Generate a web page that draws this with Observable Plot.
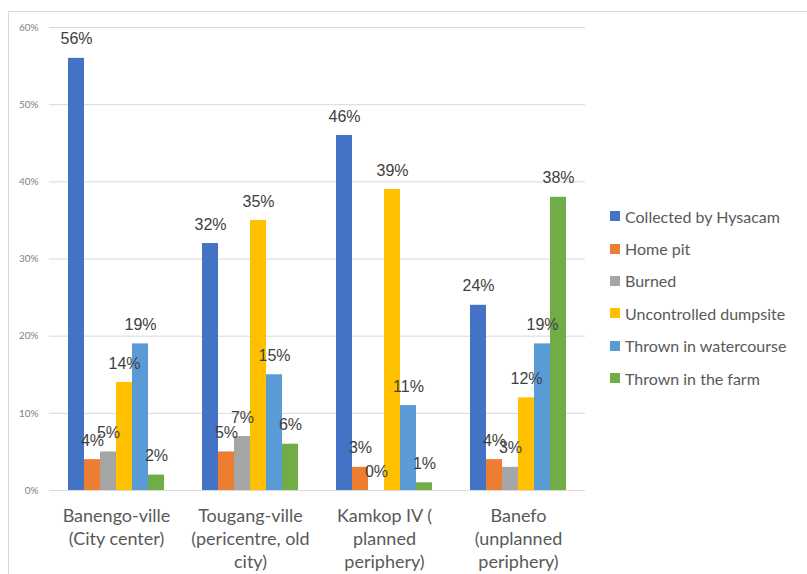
<!DOCTYPE html>
<html>
<head>
<meta charset="utf-8">
<script src="https://cdn.jsdelivr.net/npm/d3@7"></script>
<script src="https://cdn.jsdelivr.net/npm/@observablehq/plot@0.6"></script>
<style>
  html, body { margin: 0; padding: 0; background: #fff; }
  #wrap { position: relative; width: 807px; height: 574px; overflow: hidden; }
  #frame { position: absolute; left: 8px; top: 11px; width: 820px; height: 600px; border: 1px solid #d9d9d9; box-sizing: border-box; }
  #chart { position: absolute; left: 0; top: 0; }
  #legend { position: absolute; left: 610px; top: 200px; font-family: Lato, "Open Sans", sans-serif; font-size: 16px; color: #595959; }
  #legend .row { height: 32.4px; display: flex; align-items: center; white-space: nowrap; }
  #legend .sw { width: 10px; height: 10px; margin-right: 5px; flex: none; }
</style>
</head>
<body>
<div id="wrap">
  <div id="frame"></div>
  <div id="chart"></div>
  <div id="legend"></div>
</div>
<script>
const categories = ["Banengo-ville", "Tougang-ville", "Kamkop IV", "Banefo"];
const categoryLabels = [
  "Banengo-ville\n(City center)",
  "Tougang-ville\n(pericentre, old\ncity)",
  "Kamkop IV (\nplanned\nperiphery)",
  "Banefo\n(unplanned\nperiphery)"
];
const seriesNames = ["Collected by Hysacam", "Home pit", "Burned", "Uncontrolled dumpsite", "Thrown in watercourse", "Thrown in the farm"];
const seriesColors = ["#4472C4", "#ED7D31", "#A5A5A5", "#FFC000", "#5B9BD5", "#70AD47"];
const collected = [56, 32, 46, 24];
const homePit = [4, 5, 3, 4];
const burned = [5, 7, 0, 3];
const dumpsite = [14, 35, 39, 12];
const watercourse = [19, 15, 11, 19];
const farm = [2, 6, 1, 38];
const yTicks = [0, 10, 20, 30, 40, 50, 60];

const seriesValues = [collected, homePit, burned, dumpsite, watercourse, farm];
const data = [];
categories.forEach((c, i) => {
  seriesNames.forEach((s, j) => {
    data.push({category: c, series: s, value: seriesValues[j][i]});
  });
});
const labelOf = Object.fromEntries(categories.map((c, i) => [c, categoryLabels[i]]));

const chart = Plot.plot({
  width: 807,
  height: 574,
  marginLeft: 48,
  marginRight: 222,
  marginTop: 27,
  marginBottom: 84,
  style: {color: "#595959", background: "transparent"},
  fx: {domain: categories, padding: 0, label: null},
  x: {domain: seriesNames, paddingInner: 0, paddingOuter: 1.09, axis: null},
  y: {domain: [0, 60], label: null},
  color: {domain: seriesNames, range: seriesColors},
  marks: [
    Plot.gridY(yTicks, {stroke: "#d9d9d9", strokeOpacity: 1, strokeWidth: 1}),
    Plot.axisY(yTicks, {tickSize: 0, tickPadding: 11, tickFormat: d => d + "%", fontSize: 10, fill: "#7f7f7f", fontFamily: "Lato, sans-serif", label: null}),
    Plot.axisFx({anchor: "bottom", tickSize: 0, tickPadding: 15, tickFormat: d => labelOf[d], fontSize: 18, lineHeight: 1.28, fill: "#595959", fontFamily: "Lato, sans-serif", label: null}),
    Plot.barY(data, {fx: "category", x: "series", y: "value", fill: "series"}),
    Plot.text(data, {fx: "category", x: "series", y: "value", text: d => d.value + "%", dy: -19, fontSize: 16, fill: "#404040", fontFamily: "Liberation Sans, Arial, sans-serif", lineAnchor: "middle"})
  ]
});
document.getElementById("chart").appendChild(chart);

const legend = document.getElementById("legend");
seriesNames.forEach((s, i) => {
  const row = document.createElement("div");
  row.className = "row";
  const sw = document.createElement("span");
  sw.className = "sw";
  sw.style.background = seriesColors[i];
  const t = document.createElement("span");
  t.textContent = s;
  row.appendChild(sw);
  row.appendChild(t);
  legend.appendChild(row);
});
</script>
</body>
</html>
